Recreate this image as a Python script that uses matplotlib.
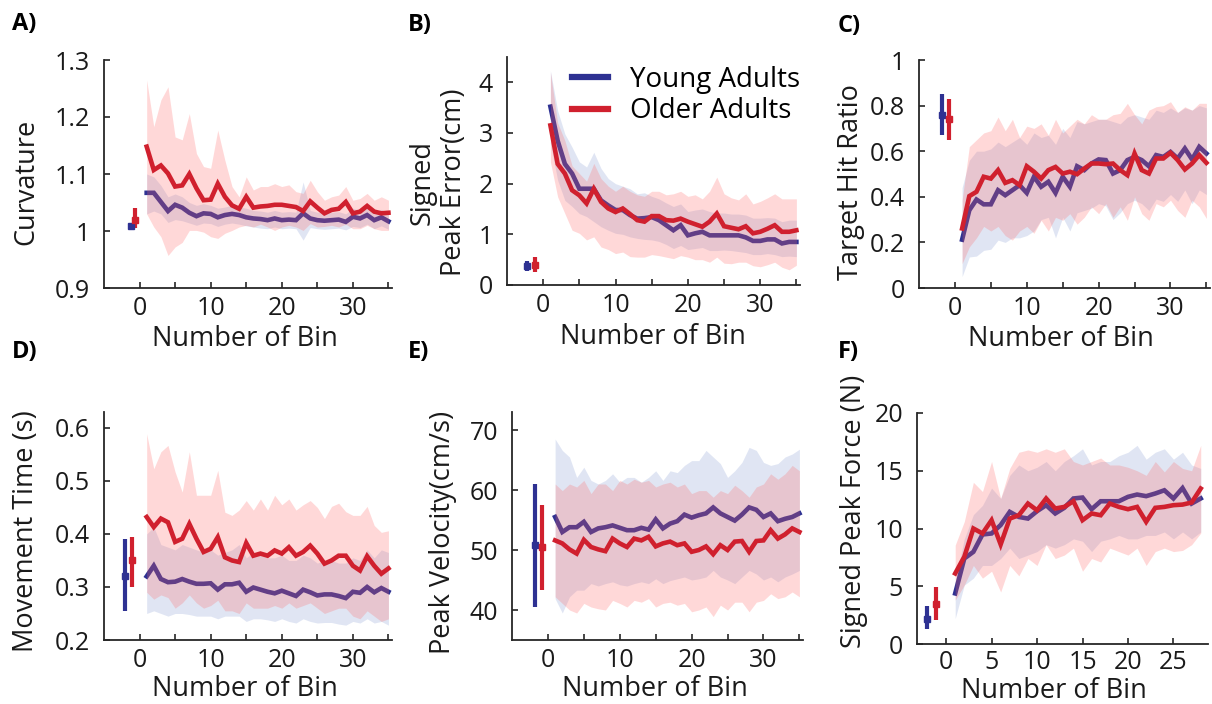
import matplotlib
matplotlib.use("Agg")
import matplotlib.pyplot as plt
from matplotlib.lines import Line2D
from matplotlib.ticker import FixedLocator
import numpy as np

plt.rcParams['font.family'] = ['Open Sans', 'DejaVu Sans']

BLUE = '#2e3192'
RED = '#d0202e'

# ---------------- data ----------------
bins35 = list(range(1, 36))
bins28 = list(range(1, 29))

# A) Curvature
a_young = [1.067,1.067,1.051,1.035,1.046,1.041,1.032,1.026,1.031,1.030,1.024,1.028,1.030,1.028,1.024,1.022,1.021,1.019,1.022,1.019,1.020,1.019,1.031,1.022,1.019,1.018,1.019,1.020,1.016,1.025,1.022,1.028,1.019,1.024,1.017]
a_young_hi = [1.100,1.095,1.080,1.060,1.065,1.060,1.050,1.045,1.048,1.045,1.040,1.042,1.045,1.042,1.040,1.036,1.035,1.033,1.036,1.033,1.034,1.033,1.086,1.036,1.033,1.032,1.033,1.034,1.030,1.040,1.036,1.042,1.033,1.038,1.031]
a_young_lo = [1.030,1.035,1.030,1.015,1.020,1.018,1.014,1.010,1.014,1.013,1.008,1.012,1.014,1.012,1.009,1.007,1.005,1.004,1.007,1.004,1.005,1.004,0.984,1.006,1.004,1.003,1.004,1.005,1.002,1.008,1.006,1.012,1.004,1.009,1.003]
a_older = [1.148,1.107,1.115,1.101,1.078,1.080,1.100,1.075,1.054,1.055,1.083,1.060,1.045,1.039,1.060,1.041,1.043,1.044,1.046,1.046,1.044,1.042,1.035,1.052,1.041,1.031,1.037,1.039,1.051,1.031,1.034,1.044,1.034,1.031,1.032]
a_older_hi = [1.265,1.183,1.230,1.253,1.165,1.160,1.206,1.136,1.113,1.110,1.177,1.124,1.078,1.060,1.095,1.072,1.078,1.078,1.083,1.078,1.081,1.069,1.066,1.089,1.069,1.054,1.060,1.063,1.078,1.054,1.057,1.066,1.054,1.060,1.054]
a_older_lo = [1.030,1.007,0.990,0.957,0.972,0.980,1.001,1.001,0.998,0.990,0.987,0.996,1.001,1.007,1.010,1.007,1.012,1.007,1.001,1.007,1.010,1.007,1.001,1.013,1.007,1.008,1.010,1.007,1.012,1.004,1.004,1.010,1.004,1.001,1.001]
a_pre_young = [1.008, 1.004, 1.012]   # mean, low, high
a_pre_older = [1.020, 1.005, 1.040]

# B) Signed Peak Error (cm)
b_young = [3.52,2.85,2.39,2.20,1.90,1.90,1.90,1.67,1.57,1.48,1.48,1.38,1.31,1.32,1.34,1.28,1.18,1.08,1.18,0.98,1.02,1.05,0.98,0.98,0.98,0.98,0.98,0.94,0.87,0.87,0.90,0.90,0.82,0.85,0.85]
b_young_hi = [4.23,3.44,2.98,2.72,2.43,2.33,2.62,2.30,2.10,2.00,1.95,1.90,1.80,1.82,1.75,1.70,1.62,1.55,1.60,1.45,1.48,1.50,1.45,1.42,1.42,1.40,1.40,1.38,1.32,1.32,1.33,1.32,1.25,1.28,1.28]
b_young_lo = [2.80,2.07,1.67,1.55,1.41,1.35,1.25,1.15,1.08,1.02,1.00,0.95,0.92,0.90,0.89,0.86,0.80,0.72,0.78,0.70,0.72,0.74,0.68,0.68,0.69,0.68,0.66,0.64,0.60,0.60,0.62,0.60,0.56,0.57,0.56]
b_older = [3.15,2.39,2.20,1.87,1.77,1.61,1.90,1.64,1.51,1.44,1.51,1.40,1.28,1.25,1.36,1.36,1.28,1.27,1.31,1.25,1.20,1.15,1.25,1.41,1.16,1.13,1.10,1.16,1.02,1.05,1.11,1.18,1.05,1.05,1.08]
b_older_hi = [4.20,3.20,2.85,2.35,2.20,2.05,2.40,2.10,1.95,1.85,1.95,1.85,1.78,1.75,1.85,1.85,1.78,1.80,1.85,1.75,1.78,1.70,1.85,2.13,1.80,1.72,1.68,1.80,1.60,1.65,1.72,1.80,1.70,1.70,1.70]
b_older_lo = [2.43,1.74,1.41,1.08,1.02,0.89,0.95,0.75,0.70,0.62,0.65,0.56,0.55,0.55,0.60,0.58,0.55,0.52,0.58,0.55,0.50,0.50,0.45,0.55,0.43,0.42,0.45,0.45,0.38,0.36,0.40,0.45,0.35,0.30,0.39]
b_pre_young = [0.38, 0.28, 0.48]
b_pre_older = [0.40, 0.25, 0.56]

# C) Target Hit Ratio
c_young = [0.212,0.341,0.388,0.367,0.367,0.429,0.407,0.429,0.451,0.417,0.488,0.444,0.466,0.417,0.488,0.444,0.534,0.517,0.546,0.564,0.561,0.502,0.517,0.561,0.575,0.561,0.534,0.583,0.575,0.597,0.568,0.612,0.564,0.619,0.590]
c_young_hi = [0.44,0.56,0.60,0.60,0.61,0.64,0.62,0.64,0.66,0.63,0.68,0.66,0.67,0.63,0.70,0.66,0.73,0.72,0.73,0.74,0.74,0.73,0.72,0.75,0.76,0.75,0.74,0.78,0.77,0.79,0.77,0.79,0.78,0.80,0.79]
c_young_lo = [0.05,0.136,0.14,0.165,0.17,0.21,0.20,0.22,0.22,0.23,0.25,0.30,0.31,0.22,0.31,0.25,0.33,0.34,0.35,0.37,0.36,0.30,0.33,0.37,0.385,0.37,0.34,0.39,0.38,0.41,0.38,0.43,0.37,0.43,0.41]
c_older = [0.261,0.403,0.422,0.488,0.480,0.517,0.461,0.473,0.451,0.534,0.510,0.480,0.517,0.531,0.502,0.510,0.499,0.524,0.546,0.546,0.543,0.546,0.517,0.495,0.590,0.517,0.502,0.568,0.568,0.593,0.561,0.520,0.546,0.583,0.549]
c_older_hi = [0.385,0.62,0.65,0.68,0.69,0.75,0.69,0.74,0.66,0.71,0.70,0.72,0.67,0.74,0.68,0.71,0.74,0.72,0.76,0.74,0.74,0.76,0.766,0.81,0.76,0.72,0.78,0.795,0.80,0.817,0.77,0.795,0.78,0.81,0.81]
c_older_lo = [0.107,0.18,0.22,0.27,0.25,0.27,0.23,0.21,0.25,0.27,0.24,0.297,0.25,0.31,0.297,0.326,0.28,0.31,0.356,0.326,0.37,0.31,0.356,0.297,0.40,0.326,0.297,0.37,0.356,0.385,0.34,0.31,0.385,0.356,0.305]
c_pre_young = [0.76, 0.67, 0.85]
c_pre_older = [0.74, 0.65, 0.83]

# D) Movement Time (s)
d_young = [0.320,0.340,0.315,0.309,0.310,0.315,0.310,0.306,0.306,0.307,0.295,0.305,0.305,0.308,0.291,0.299,0.295,0.291,0.288,0.293,0.288,0.283,0.295,0.290,0.284,0.286,0.286,0.283,0.279,0.291,0.289,0.300,0.290,0.298,0.291]
d_young_hi = [0.400,0.413,0.380,0.375,0.370,0.380,0.375,0.370,0.365,0.370,0.360,0.365,0.370,0.380,0.355,0.365,0.360,0.355,0.355,0.360,0.350,0.350,0.360,0.355,0.345,0.350,0.350,0.345,0.345,0.355,0.350,0.370,0.355,0.370,0.365]
d_young_lo = [0.250,0.255,0.250,0.245,0.250,0.250,0.248,0.245,0.245,0.245,0.240,0.245,0.245,0.245,0.235,0.240,0.240,0.238,0.235,0.240,0.235,0.232,0.240,0.235,0.232,0.233,0.233,0.230,0.228,0.235,0.232,0.240,0.232,0.235,0.228]
d_older = [0.432,0.413,0.429,0.422,0.385,0.391,0.419,0.391,0.366,0.372,0.394,0.356,0.350,0.347,0.383,0.359,0.363,0.359,0.369,0.363,0.375,0.359,0.366,0.378,0.363,0.344,0.350,0.359,0.359,0.340,0.331,0.358,0.340,0.325,0.335]
d_older_hi = [0.589,0.523,0.555,0.567,0.517,0.479,0.555,0.473,0.473,0.473,0.520,0.441,0.435,0.445,0.463,0.445,0.466,0.445,0.473,0.455,0.466,0.445,0.455,0.463,0.450,0.429,0.452,0.458,0.442,0.435,0.435,0.452,0.416,0.403,0.406]
d_older_lo = [0.290,0.277,0.285,0.280,0.260,0.270,0.285,0.270,0.260,0.265,0.275,0.255,0.255,0.250,0.270,0.260,0.260,0.260,0.265,0.260,0.270,0.260,0.265,0.270,0.260,0.250,0.255,0.260,0.260,0.245,0.240,0.255,0.245,0.235,0.240]
d_pre_young = [0.32, 0.255, 0.39]
d_pre_older = [0.35, 0.30, 0.395]

# E) Peak Velocity (cm/s)
e_young = [55.5,53.0,53.8,53.8,54.7,53.0,53.6,53.8,54.1,53.7,53.3,53.3,53.7,53.4,55.1,53.6,54.4,54.8,55.9,55.4,55.8,56.1,57.1,56.1,55.5,54.9,55.9,57.1,56.7,55.5,56.1,54.8,55.2,55.5,56.1]
e_young_hi = [68.5,66.6,65.5,62.1,63.8,61.6,61.0,61.6,62.7,61.3,62.1,62.1,61.3,62.1,63.2,61.6,63.2,62.9,64.1,64.9,64.9,66.6,65.5,64.4,62.1,63.2,64.6,67.1,66.6,64.6,64.1,64.4,65.5,66.0,66.8]
e_young_lo = [41.9,39.5,42.2,43.3,43.3,44.4,44.0,44.4,44.7,44.2,44.0,44.4,44.7,44.4,45.2,44.4,44.9,45.2,45.5,45.0,45.2,45.5,46.6,45.5,45.0,44.4,45.5,46.6,46.0,45.0,45.5,44.7,45.5,46.0,46.6]
e_older = [51.6,51.1,50.1,49.4,51.7,50.5,50.1,49.8,51.9,51.1,50.5,51.9,51.6,52.2,50.6,51.1,51.4,50.8,51.1,49.7,50.0,50.6,49.3,50.8,50.0,51.4,51.5,49.7,51.5,51.6,53.3,51.9,52.6,53.6,53.0]
e_older_hi = [61.0,59.9,61.0,60.5,61.6,59.4,61.0,61.0,59.9,61.6,61.0,61.8,61.3,61.6,60.5,61.0,61.3,60.5,61.0,59.4,59.9,59.9,58.8,59.9,59.4,60.8,59.9,58.8,60.5,61.0,62.7,61.8,62.7,64.1,63.2]
e_older_lo = [42.2,41.1,40.0,39.5,41.1,40.5,40.2,40.0,41.6,41.1,40.5,41.6,41.3,41.9,40.5,41.1,41.3,40.8,41.1,39.7,40.0,40.5,38.9,40.8,40.0,41.3,41.3,39.7,41.3,41.6,42.7,41.9,42.2,43.0,42.2]
e_pre_young = [50.8, 40.5, 61.0]
e_pre_older = [50.5, 43.3, 57.5]

# F) Signed Peak Force (N)
f_young = [4.38,7.40,7.98,9.48,9.57,10.30,11.44,11.00,10.86,11.50,12.02,11.30,11.79,12.60,12.68,11.67,12.36,12.36,12.36,12.74,12.94,12.80,13.03,13.31,12.60,13.50,12.16,12.60]
f_young_hi = [5.4,9.1,11.2,12.0,13.5,12.6,14.6,15.5,15.0,15.3,15.8,15.0,15.8,16.3,16.9,15.5,15.8,15.8,16.3,16.6,17.2,16.0,16.6,16.9,16.0,16.6,15.5,15.2]
f_young_lo = [2.2,5.1,5.7,6.8,6.8,7.4,8.3,7.4,7.7,8.0,8.6,8.3,8.6,9.1,8.9,8.0,8.9,9.1,9.4,9.1,9.1,9.4,9.4,9.7,9.1,9.7,9.1,9.7]
f_older = [6.11,7.55,10.00,9.57,10.72,8.62,10.86,11.15,12.16,11.58,12.60,11.73,11.87,12.36,10.72,11.30,11.15,12.16,11.87,11.67,11.87,10.58,11.79,11.87,12.02,12.07,12.25,13.46]
f_older_hi = [8.56,10.6,14.0,13.2,15.8,12.6,15.2,16.6,16.8,16.6,16.9,16.6,16.9,15.8,15.5,15.8,16.1,15.5,15.5,15.3,15.0,14.6,15.8,14.9,15.8,15.2,15.0,17.2]
f_older_lo = [3.8,5.1,6.8,5.7,6.3,4.5,6.8,5.9,7.4,6.8,8.6,7.4,7.7,8.3,6.3,7.4,7.1,8.3,8.0,7.7,8.3,6.8,8.0,8.3,8.0,8.1,8.6,9.6]
f_pre_young = [2.2, 1.3, 3.3]
f_pre_older = [3.5, 2.1, 4.9]

# pre-training bin positions (young, older)
pre_x = {'A': (-1.2, -0.6), 'B': (-2.2, -1.1), 'C': (-1.8, -0.8),
         'D': (-2.0, -1.0), 'E': (-1.8, -0.8), 'F': (-2.1, -1.1)}

ylabels = {'A': 'Curvature', 'B': 'Signed\nPeak Error(cm)', 'C': 'Target Hit Ratio',
           'D': 'Movement Time (s)', 'E': 'Peak Velocity(cm/s)', 'F': 'Signed Peak Force (N)'}
yticks = {'A': [0.9, 1.0, 1.1, 1.2, 1.3], 'B': [0, 1, 2, 3, 4], 'C': [0, 0.2, 0.4, 0.6, 0.8, 1.0],
          'D': [0.2, 0.3, 0.4, 0.5, 0.6], 'E': [40, 50, 60, 70], 'F': [0, 5, 10, 15, 20]}
yticklabels = {'A': ['0.9', '1', '1.1', '1.2', '1.3'], 'B': ['0', '1', '2', '3', '4'],
               'C': ['0', '0.2', '0.4', '0.6', '0.8', '1'], 'D': ['0.2', '0.3', '0.4', '0.5', '0.6'],
               'E': ['40', '50', '60', '70'], 'F': ['0', '5', '10', '15', '20']}
ylims = {'A': (0.9, 1.3), 'B': (0, 4.5), 'C': (0, 1), 'D': (0.2, 0.63), 'E': (35, 73), 'F': (0, 20)}

panels = {
    'A': (bins35, a_young, a_young_lo, a_young_hi, a_older, a_older_lo, a_older_hi, a_pre_young, a_pre_older),
    'B': (bins35, b_young, b_young_lo, b_young_hi, b_older, b_older_lo, b_older_hi, b_pre_young, b_pre_older),
    'C': (bins35, c_young, c_young_lo, c_young_hi, c_older, c_older_lo, c_older_hi, c_pre_young, c_pre_older),
    'D': (bins35, d_young, d_young_lo, d_young_hi, d_older, d_older_lo, d_older_hi, d_pre_young, d_pre_older),
    'E': (bins35, e_young, e_young_lo, e_young_hi, e_older, e_older_lo, e_older_hi, e_pre_young, e_pre_older),
    'F': (bins28, f_young, f_young_lo, f_young_hi, f_older, f_older_lo, f_older_hi, f_pre_young, f_pre_older),
}

# ---------------- layout ----------------
W, H = 1212, 704
fig = plt.figure(figsize=(W / 100, H / 100), dpi=100)

def px_axes(l, t, r, b):
    return [l / W, 1 - b / H, (r - l) / W, (b - t) / H]

boxes = {'A': px_axes(104, 60, 392, 288), 'B': px_axes(507, 57, 800, 285),
         'C': px_axes(919, 60, 1210, 288), 'D': px_axes(104, 412, 392, 640),
         'E': px_axes(512, 412, 803, 640), 'F': px_axes(917, 413, 1208, 644)}
ylab_pos = {'A': (-0.27, 0.465), 'B': (-0.235, 0.45), 'C': (-0.232, 0.465),
            'D': (-0.27, 0.478), 'E': (-0.237, 0.47), 'F': (-0.218, 0.575)}
xlab_pos = {'A': (0.49, -0.222), 'B': (0.498, -0.226), 'C': (0.488, -0.222),
            'D': (0.49, -0.215), 'E': (0.49, -0.215), 'F': (0.47, -0.203)}
xpad = {'A': 6, 'B': 6, 'C': 6, 'D': 6, 'E': 6, 'F': 4}
letter_pos = {'A': (12, 24), 'B': (408, 25), 'C': (838, 26),
              'D': (12, 352), 'E': (408, 352), 'F': (838, 352)}

TFS = 18     # tick labels
LFS = 19.5   # axis labels
SPINE = '#262626'
TXT = '#1a1a1a'

for key, (x, ym, ylo, yhi, om, olo, ohi, py, po) in panels.items():
    ax = fig.add_axes(boxes[key])
    ax.fill_between(x, ylo, yhi, color=(0.45, 0.55, 0.80), alpha=0.22, lw=0, zorder=1)
    ax.plot(x, ym, color=BLUE, lw=3.3, zorder=2, solid_joinstyle='miter')
    ax.fill_between(x, olo, ohi, color=(1.0, 0.40, 0.40), alpha=0.25, lw=0, zorder=3)
    ax.plot(x, om, color=RED, lw=3.3, zorder=4, solid_joinstyle='miter')
    xy, xo = pre_x[key]
    ax.errorbar([xy], [py[0]], yerr=[[py[0] - py[1]], [py[2] - py[0]]], fmt='s', color=BLUE,
                ms=5, elinewidth=3, capsize=0, zorder=5)
    ax.errorbar([xo], [po[0]], yerr=[[po[0] - po[1]], [po[2] - po[0]]], fmt='s', color=RED,
                ms=5, elinewidth=3, capsize=0, zorder=5)

    if key == 'F':
        ax.set_xlim(-3.2, 28.8)
        ax.set_xticks([0, 5, 10, 15, 20, 25])
    else:
        ax.set_xlim(-5, 35.5)
        ax.set_xticks([0, 10, 20, 30])
        ax.xaxis.set_minor_locator(FixedLocator([5, 15, 25, 35]))
    ax.set_ylim(*ylims[key])
    ax.set_yticks(yticks[key])
    ax.set_yticklabels(yticklabels[key])

    for s in ['top', 'right']:
        ax.spines[s].set_visible(False)
    for s in ['left', 'bottom']:
        ax.spines[s].set_color(SPINE)
        ax.spines[s].set_linewidth(1.3)
    ax.tick_params(axis='both', which='both', direction='in', length=4, width=1.2,
                   colors=SPINE, labelsize=TFS, labelcolor=TXT)
    ax.tick_params(axis='y', which='both', pad=10)
    ax.tick_params(axis='x', which='both', pad=xpad[key])

    ax.set_xlabel('Number of Bin', fontsize=LFS, color=TXT, va='center')
    ax.xaxis.set_label_coords(*xlab_pos[key])
    ax.set_ylabel(ylabels[key], fontsize=LFS, color=TXT, va='center', ha='center',
                  linespacing=1.15)
    ax.yaxis.set_label_coords(*ylab_pos[key])

    lx, ly = letter_pos[key]
    fig.text(lx / W, 1 - ly / H, key + ')', fontsize=17, fontweight='bold',
             ha='left', va='center', color='black')

    if key == 'B':
        handles = [Line2D([0], [0], color=BLUE, lw=4.5), Line2D([0], [0], color=RED, lw=4.5)]
        ax.legend(handles, ['Young Adults', 'Older Adults'], loc='upper left',
                  bbox_to_anchor=(0.222, 0.96), frameon=False, fontsize=20,
                  borderpad=0, borderaxespad=0, handlelength=1.3, handletextpad=0.8,
                  labelspacing=0.12)

fig.savefig('out.png', dpi=100)
